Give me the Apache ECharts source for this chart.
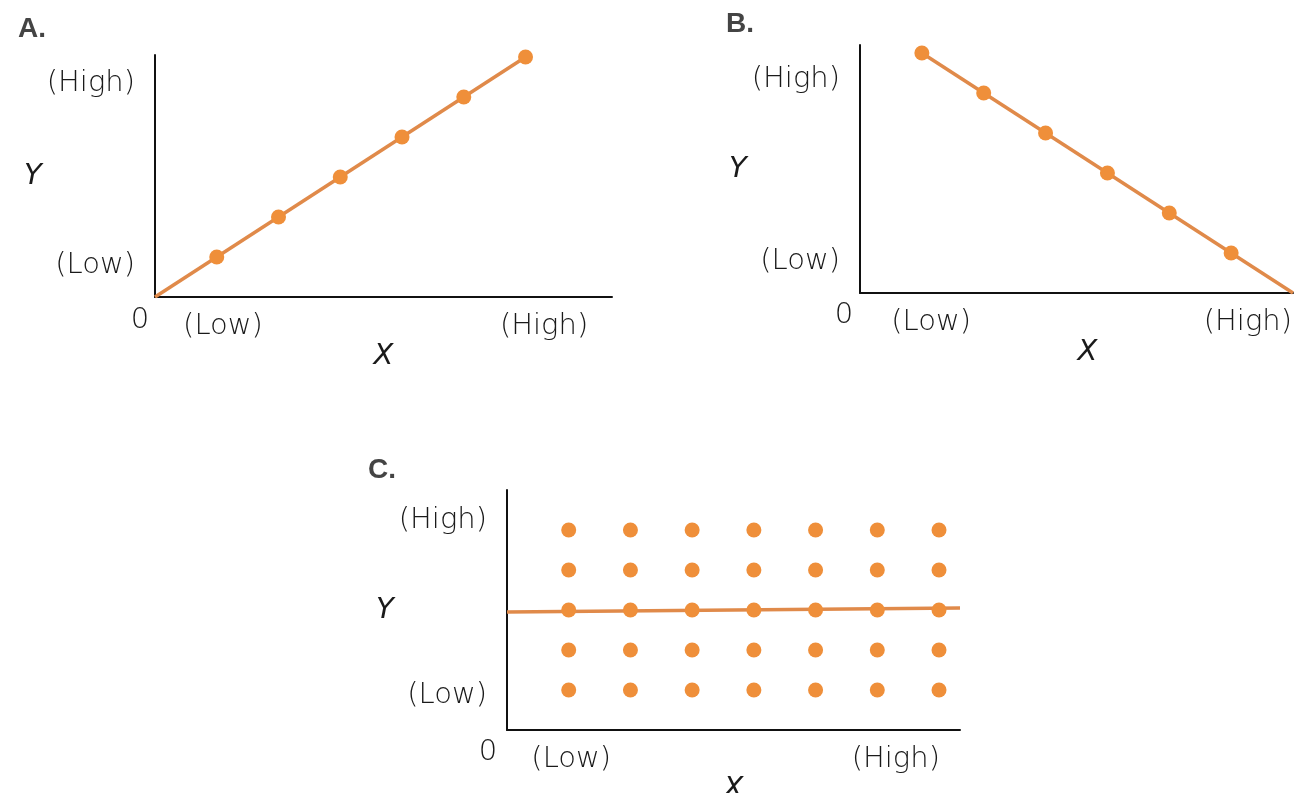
<!DOCTYPE html>
<html>
<head>
<meta charset="utf-8">
<script src="https://cdn.jsdelivr.net/npm/echarts@6/dist/echarts.min.js"></script>
<style>
  html, body { margin: 0; padding: 0; background: #fff; }
  #chart { width: 1303px; height: 793px; }
</style>
</head>
<body>
<div id="chart"></div>
<script>
// panel A: positive relationship
var aX = [1, 2, 3, 4, 5, 6];
var aY = [1, 2, 3, 4, 5, 6];
var aLine = [[0, 0], [6, 6]];
// panel B: negative relationship
var bX = [1, 2, 3, 4, 5, 6];
var bY = [6, 5, 4, 3, 2, 1];
var bLine = [[1, 6], [7, 0]];
// panel C: no relationship, 7 x 5 cloud
var cX = [1, 2, 3, 4, 5, 6, 7];
var cY = [1, 2, 3, 4, 5];
var cLine = [[0, 2.95], [7.34, 3.05]];

// tick labels
var tickNames = ['(Low)', '(High)'];
var aXTicks = [1.1, 6.3],  aYTicks = [0.8, 5.35];
var bXTicks = [1.15, 6.27], bYTicks = [0.78, 5.33];
var cXTicks = [1.04, 6.3],  cYTicks = [0.875, 5.25];

var orange = '#ef8f3a';
var lineColor = '#e08a4a';
var textColor = '#1a1a1a';
var font = 'DejaVu Sans';

function pairs(xs, ys) {
    var out = [];
    for (var i = 0; i < xs.length; i++) out.push([xs[i], ys[i]]);
    return out;
}
function grid(xs, ys) {
    var out = [];
    for (var j = 0; j < ys.length; j++)
        for (var i = 0; i < xs.length; i++) out.push([xs[i], ys[j]]);
    return out;
}
function tickLabel(ticks) {
    return function (v) {
        var k = 0, d = Infinity;
        for (var i = 0; i < ticks.length; i++) {
            if (Math.abs(ticks[i] - v) < d) { d = Math.abs(ticks[i] - v); k = i; }
        }
        return tickNames[k];
    };
}
function axis(idx, max, ticks, isY, gap, pad) {
    return {
        type: 'value', gridIndex: idx, min: 0, max: max,
        name: isY ? 'Y' : 'X',
        nameLocation: 'middle', nameGap: gap, nameRotate: 0,
        nameTextStyle: {
            fontFamily: font, fontSize: 29, fontStyle: 'italic', fontWeight: 200,
            color: textColor, padding: pad || 0
        },
        axisLine: { show: true, onZero: false, lineStyle: { color: '#111', width: 2 } },
        axisTick: { show: false },
        splitLine: { show: false },
        axisLabel: {
            customValues: ticks,
            formatter: tickLabel(ticks),
            fontFamily: font, fontSize: 29, fontWeight: 200, color: textColor,
            margin: isY ? 20 : 15,
            showMinLabel: true, showMaxLabel: true
        }
    };
}
function lineSeries(idx, data) {
    return {
        type: 'line', xAxisIndex: idx, yAxisIndex: idx, data: data,
        showSymbol: false, silent: true,
        lineStyle: { color: lineColor, width: 3.5 }, z: 2
    };
}
function dotSeries(idx, data) {
    return {
        type: 'scatter', xAxisIndex: idx, yAxisIndex: idx, data: data,
        symbolSize: 15, itemStyle: { color: orange, opacity: 1 }, z: 3
    };
}
function zero(x, y) {
    return {
        type: 'text', x: x, y: y,
        style: {
            text: '0', fontFamily: font, fontSize: 29, fontWeight: 200, fill: textColor,
            align: 'center', verticalAlign: 'middle'
        }
    };
}

var chart = echarts.init(document.getElementById('chart'));
var option = {
    backgroundColor: '#fff',
    animation: false,
    title: [
        { text: 'A.', left: 13, top: 10 },
        { text: 'B.', left: 721, top: 5 },
        { text: 'C.', left: 363, top: 451 }
    ].map(function (t) {
        t.textStyle = { fontFamily: 'Liberation Sans', fontSize: 28, fontWeight: 'bold', color: '#444' };
        return t;
    }),
    grid: [
        { left: 155, top: 55, width: 457, height: 242, outerBoundsMode: 'none' },
        { left: 860, top: 45, width: 433, height: 248, outerBoundsMode: 'none' },
        { left: 507, top: 490, width: 453, height: 240, outerBoundsMode: 'none' }
    ],
    xAxis: [
        axis(0, 7.4, aXTicks, false, 38),
        axis(1, 7.0, bXTicks, false, 36, [0, 0, 0, 22]),
        axis(2, 7.34, cXTicks, false, 41)
    ],
    yAxis: [
        axis(0, 6.05, aYTicks, true, 107),
        axis(1, 6.2, bYTicks, true, 107),
        axis(2, 6.0, cYTicks, true, 106)
    ],
    graphic: [zero(140, 320), zero(844, 315), zero(488, 752)],
    series: [
        lineSeries(0, aLine),
        dotSeries(0, pairs(aX, aY)),
        lineSeries(1, bLine),
        dotSeries(1, pairs(bX, bY)),
        lineSeries(2, cLine),
        dotSeries(2, grid(cX, cY))
    ]
};
chart.setOption(option);
</script>
</body>
</html>
